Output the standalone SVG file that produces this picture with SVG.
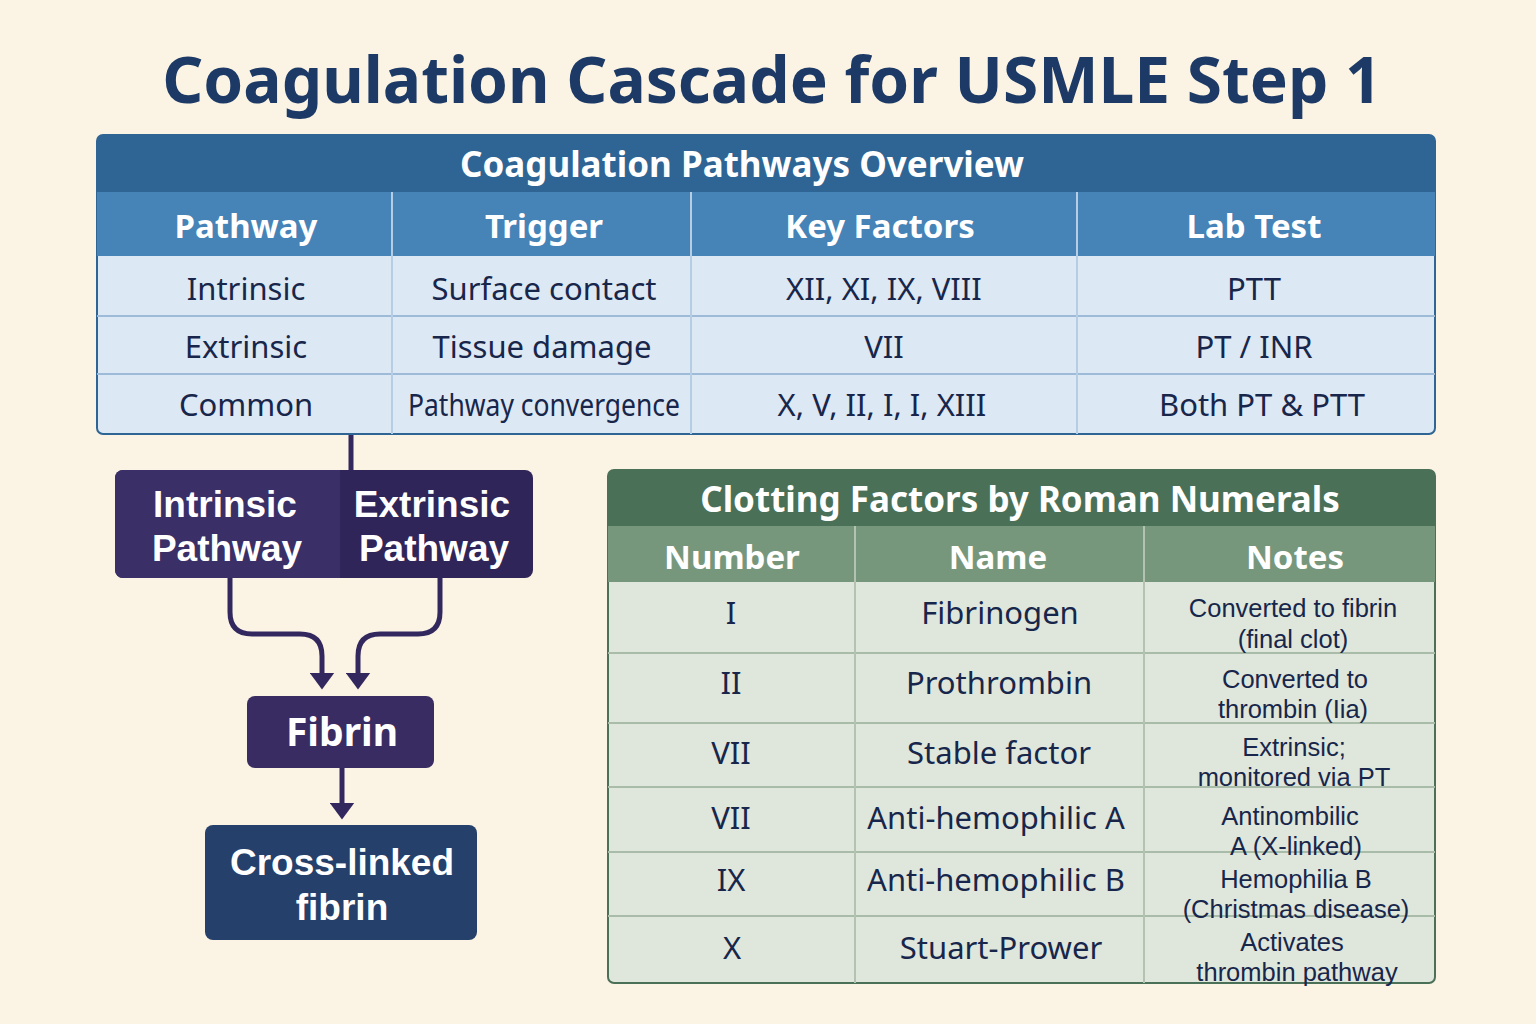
<svg xmlns="http://www.w3.org/2000/svg" width="1536" height="1024" viewBox="0 0 1536 1024">
<defs>
<style>
.t{font-family:"Noto Sans","Open Sans","Liberation Sans",sans-serif;text-anchor:middle}
.title{font-size:64px;font-weight:700;fill:#1d3a66}
.th{font-size:35px;font-weight:700;fill:#ffffff}
.hd{font-size:33px;font-weight:700;fill:#ffffff}
.cell{font-size:31px;fill:#17264a}
.note{font-family:"Liberation Sans","Noto Sans",sans-serif;font-size:25.5px;fill:#17264a}
.node{font-family:"Liberation Sans","Noto Sans",sans-serif;font-size:37px;font-weight:700;fill:#ffffff}
.grid1{stroke:#9dbbd8;stroke-width:2;fill:none}
.grid2{stroke:#a9bca9;stroke-width:2;fill:none}
.conn{stroke:#33285e;stroke-width:5;fill:none}
</style>
<marker id="ah" viewBox="0 0 10 10" refX="2" refY="5" markerWidth="3.4" markerHeight="5" markerUnits="strokeWidth" orient="auto" preserveAspectRatio="none">
<path d="M0,0 L10,5 L0,10 Z" fill="#33285e"/>
</marker>
</defs>
<rect width="1536" height="1024" fill="#fbf4e4"/>
<text class="t title" x="772" y="103">Coagulation Cascade for USMLE Step 1</text>

<g id="pathways-table">
<rect x="97" y="135" width="1338" height="299" rx="6" fill="#dce8f4" stroke="#2e6594" stroke-width="2"/>
<path d="M97,192 V141 a6,6 0 0 1 6,-6 H1429 a6,6 0 0 1 6,6 V192 Z" fill="#2e6594"/>
<rect x="97" y="192" width="1338" height="64" fill="#4683b7"/>
<path class="grid1" d="M97,316 H1435 M97,374 H1435"/>
<path d="M392,192 V434 M691,192 V434 M1077,192 V434" stroke="#b7cde4" stroke-width="2"/>
<text class="t th" x="742" y="177">Coagulation Pathways Overview</text>
<text class="t hd" x="246" y="238">Pathway</text>
<text class="t hd" x="544" y="238">Trigger</text>
<text class="t hd" x="880" y="238">Key Factors</text>
<text class="t hd" x="1254" y="238">Lab Test</text>
<text class="t cell" x="246" y="300">Intrinsic</text>
<text class="t cell" x="544" y="300">Surface contact</text>
<text class="t cell" x="884" y="300">XII, XI, IX, VIII</text>
<text class="t cell" x="1254" y="300">PTT</text>
<text class="t cell" x="246" y="358">Extrinsic</text>
<text class="t cell" x="542" y="358">Tissue damage</text>
<text class="t cell" x="884" y="358">VII</text>
<text class="t cell" x="1254" y="358">PT / INR</text>
<text class="t cell" x="246" y="416">Common</text>
<text class="t cell" x="544" y="416" textLength="272" lengthAdjust="spacingAndGlyphs">Pathway convergence</text>
<text class="t cell" x="882" y="416">X, V, II, I, I, XIII</text>
<text class="t cell" x="1262" y="416">Both PT &amp; PTT</text>
</g>

<g id="connectors">
<path class="conn" d="M351,435 V470"/>
<path class="conn" d="M230,578 V612 Q230,634 252,634 H300 Q322,634 322,656 V676" marker-end="url(#ah)"/>
<path class="conn" d="M440,578 V612 Q440,634 418,634 H380 Q358,634 358,656 V676" marker-end="url(#ah)"/>
<path class="conn" d="M342,768 V806" marker-end="url(#ah)"/>
</g>

<g id="node-pathways">
<rect x="115" y="470" width="418" height="108" rx="8" fill="#2f2558"/>
<path d="M123,470 H340 V578 H123 a8,8 0 0 1 -8,-8 V478 a8,8 0 0 1 8,-8 Z" fill="#3a2f66"/>
<text class="t node" x="225" y="517">Intrinsic<tspan x="227" dy="44">Pathway</tspan></text>
<text class="t node" x="432" y="517">Extrinsic<tspan x="434" dy="44">Pathway</tspan></text>
</g>

<g id="node-fibrin">
<rect x="247" y="696" width="187" height="72" rx="8" fill="#392c63"/>
<text class="t" x="342" y="746" style="font-size:39px;font-weight:700;fill:#ffffff">Fibrin</text>
</g>

<g id="node-crosslinked">
<rect x="205" y="825" width="272" height="115" rx="8" fill="#25406a"/>
<text class="t node" x="342" y="875">Cross-linked<tspan x="342" dy="45">fibrin</tspan></text>
</g>

<g id="factors-table">
<rect x="608" y="470" width="827" height="513" rx="6" fill="#dfe6dc" stroke="#4a7058" stroke-width="2"/>
<path d="M608,526 V476 a6,6 0 0 1 6,-6 H1429 a6,6 0 0 1 6,6 V526 Z" fill="#4a7058"/>
<rect x="608" y="526" width="827" height="56" fill="#77977c"/>
<path class="grid2" d="M608,653 H1435 M608,723 H1435 M608,787 H1435 M608,852 H1435 M608,916 H1435"/>
<path d="M855,526 V983 M1144,526 V983" stroke="#b3c2b1" stroke-width="2"/>
<text class="t th" x="1020" y="512">Clotting Factors by Roman Numerals</text>
<text class="t hd" x="732" y="569">Number</text>
<text class="t hd" x="998" y="569">Name</text>
<text class="t hd" x="1295" y="569">Notes</text>

<text class="t cell" x="731" y="624">I</text>
<text class="t cell" x="1000" y="624">Fibrinogen</text>
<text class="t note" x="1293" y="617">Converted to fibrin<tspan x="1293" dy="31">(final clot)</tspan></text>

<text class="t cell" x="731" y="694">II</text>
<text class="t cell" x="999" y="694">Prothrombin</text>
<text class="t note" x="1295" y="688">Converted to<tspan x="1293" dy="29.5">thrombin (Iia)</tspan></text>

<text class="t cell" x="731" y="764">VII</text>
<text class="t cell" x="999" y="764">Stable factor</text>
<text class="t note" x="1294" y="756">Extrinsic;<tspan x="1294" dy="29.5">monitored via PT</tspan></text>

<text class="t cell" x="731" y="829">VII</text>
<text class="t cell" x="996" y="829">Anti-hemophilic A</text>
<text class="t note" x="1290" y="825">Antinombilic<tspan x="1296" dy="29.5">A (X-linked)</tspan></text>

<text class="t cell" x="731" y="891">IX</text>
<text class="t cell" x="996" y="891">Anti-hemophilic B</text>
<text class="t note" x="1296" y="888">Hemophilia B<tspan x="1296" dy="29.5">(Christmas disease)</tspan></text>

<text class="t cell" x="732" y="959">X</text>
<text class="t cell" x="1001" y="959">Stuart-Prower</text>
<text class="t note" x="1292" y="951">Activates<tspan x="1297" dy="29.5">thrombin pathway</tspan></text>
</g>
</svg>
